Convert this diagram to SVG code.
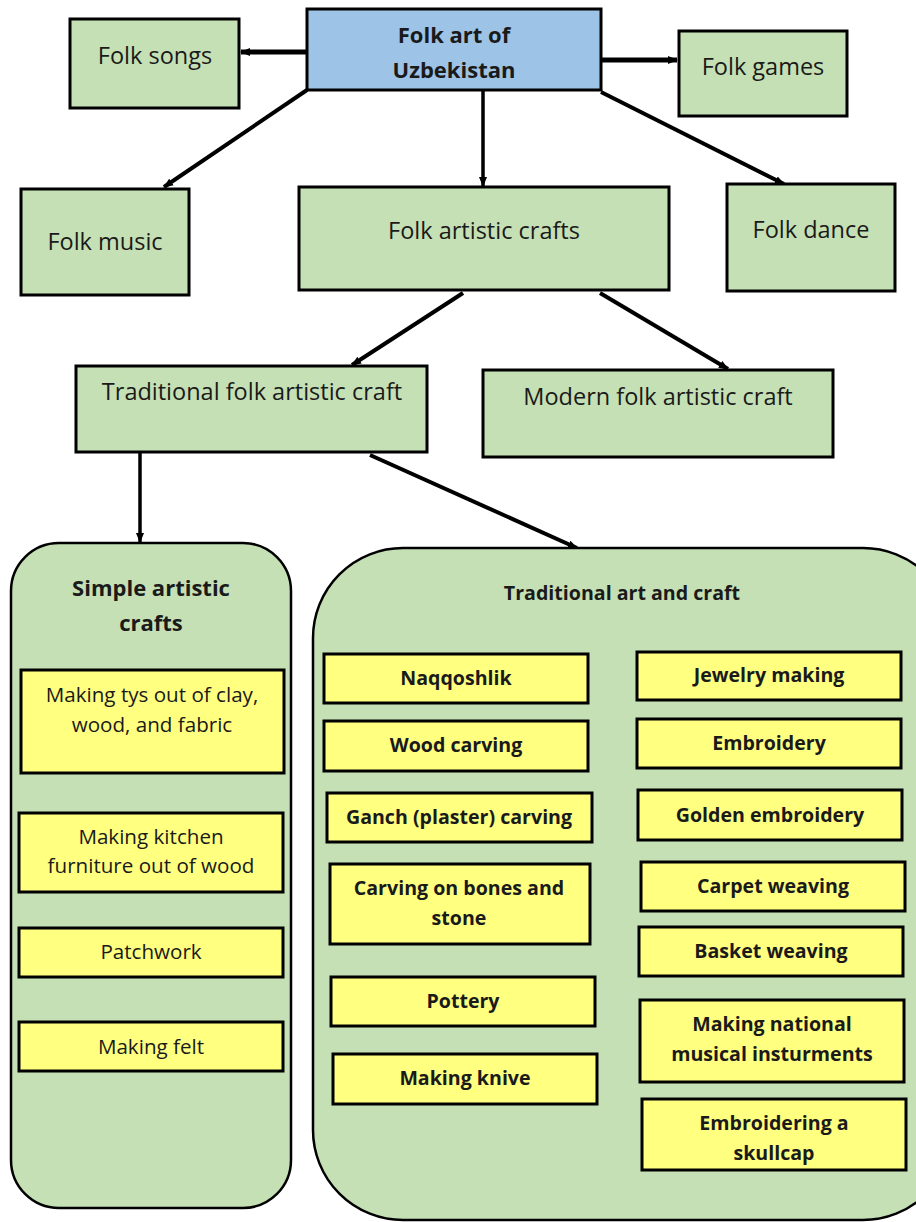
<svg xmlns="http://www.w3.org/2000/svg" width="916" height="1222" viewBox="0 0 916 1222">
<style>
.g{fill:#C5E0B4;stroke:#000;stroke-width:3}
.b{fill:#9DC3E6;stroke:#000;stroke-width:3}
.y{fill:#FFFF80;stroke:#000;stroke-width:3}
.c{fill:#C5E0B4;stroke:#000;stroke-width:2.5}
text{font-family:"Open Sans","Liberation Sans",sans-serif;fill:#1a1a1a;text-anchor:middle}
.t{font-size:23.5px}
.tb{font-size:22px;font-weight:bold}
.s{font-size:20.6px}
.sb{font-size:19.6px;font-weight:bold}
.ln{stroke:#000;fill:none}
</style>
<defs>
<marker id="ah" markerUnits="userSpaceOnUse" markerWidth="10" markerHeight="10" refX="9" refY="5" orient="auto">
<path d="M0,1 L10,5 L0,9 z" fill="#000"/>
</marker>
</defs>
<g id="connectors">
<line class="ln" x1="307" y1="52" x2="241" y2="52" stroke-width="5" marker-end="url(#ah)"/>
<line class="ln" x1="601" y1="60" x2="677" y2="60" stroke-width="5" marker-end="url(#ah)"/>
<line class="ln" x1="307" y1="90" x2="164" y2="187" stroke-width="4" marker-end="url(#ah)"/>
<line class="ln" x1="483" y1="90" x2="483" y2="186" stroke-width="3.5" marker-end="url(#ah)"/>
<line class="ln" x1="601" y1="92" x2="784" y2="184" stroke-width="4" marker-end="url(#ah)"/>
<line class="ln" x1="463" y1="293" x2="352" y2="365" stroke-width="4" marker-end="url(#ah)"/>
<line class="ln" x1="600" y1="293" x2="728" y2="369" stroke-width="4" marker-end="url(#ah)"/>
<line class="ln" x1="140" y1="453" x2="140" y2="542" stroke-width="3.5" marker-end="url(#ah)"/>
<line class="ln" x1="370" y1="455" x2="577" y2="548" stroke-width="4" marker-end="url(#ah)"/>
</g>
<g id="n-main"><rect class="b" x="307" y="9" width="294" height="81"/><text class="tb" x="454" y="43" font-size="21">Folk art of</text><text class="tb" x="454" y="78" font-size="21">Uzbekistan</text></g>
<g id="n-songs"><rect class="g" x="70" y="19" width="169" height="89"/><text class="t" x="155" y="64">Folk songs</text></g>
<g id="n-games"><rect class="g" x="679" y="31" width="168" height="85"/><text class="t" x="763" y="75">Folk games</text></g>
<g id="n-music"><rect class="g" x="21" y="189" width="168" height="106"/><text class="t" x="105" y="250">Folk music</text></g>
<g id="n-crafts"><rect class="g" x="299" y="187" width="370" height="103"/><text class="t" x="484" y="239">Folk artistic crafts</text></g>
<g id="n-dance"><rect class="g" x="727" y="184" width="168" height="107"/><text class="t" x="811" y="238">Folk dance</text></g>
<g id="n-trad"><rect class="g" x="76" y="366" width="351" height="86"/><text class="t" x="252" y="400">Traditional folk artistic craft</text></g>
<g id="n-modern"><rect class="g" x="483" y="370" width="350" height="87"/><text class="t" x="658" y="405">Modern folk artistic craft</text></g>
<g id="n-simple">
<rect class="c" x="11" y="543" width="280" height="665" rx="48" ry="48"/>
<text class="tb" x="151" y="596">Simple artistic</text><text class="tb" x="151" y="631">crafts</text>
</g>
<g id="n-toys"><rect class="y" x="21" y="670" width="263" height="103"/><text class="s" x="152" y="702">Making tys out of clay,</text><text class="s" x="152" y="732">wood, and fabric</text></g>
<g id="n-kitchen"><rect class="y" x="19" y="813" width="264" height="79"/><text class="s" x="151" y="844">Making kitchen</text><text class="s" x="151" y="873">furniture out of wood</text></g>
<g id="n-patch"><rect class="y" x="19" y="928" width="264" height="49"/><text class="s" x="151" y="959">Patchwork</text></g>
<g id="n-felt"><rect class="y" x="19" y="1022" width="264" height="49"/><text class="s" x="151" y="1054">Making felt</text></g>
<g id="n-tradart">
<rect class="c" x="313" y="548" width="640" height="672" rx="90" ry="90"/>
<text class="sb" x="622" y="600" font-size="19.2">Traditional art and craft</text>
</g>
<g id="n-naq"><rect class="y" x="324" y="654" width="264" height="49"/><text class="sb" x="456" y="685">Naqqoshlik</text></g>
<g id="n-wood"><rect class="y" x="324" y="721" width="264" height="50"/><text class="sb" x="456" y="752">Wood carving</text></g>
<g id="n-ganch"><rect class="y" x="327" y="793" width="265" height="49"/><text class="sb" x="459" y="824">Ganch (plaster) carving</text></g>
<g id="n-bones"><rect class="y" x="330" y="864" width="260" height="80"/><text class="sb" x="459" y="895">Carving on bones and</text><text class="sb" x="459" y="925">stone</text></g>
<g id="n-pottery"><rect class="y" x="331" y="977" width="264" height="49"/><text class="sb" x="463" y="1008">Pottery</text></g>
<g id="n-knive"><rect class="y" x="333" y="1054" width="264" height="50"/><text class="sb" x="465" y="1085">Making knive</text></g>
<g id="n-jewel"><rect class="y" x="637" y="652" width="264" height="48"/><text class="sb" x="769" y="682">Jewelry making</text></g>
<g id="n-embr"><rect class="y" x="637" y="719" width="264" height="49"/><text class="sb" x="769" y="750">Embroidery</text></g>
<g id="n-golden"><rect class="y" x="638" y="790" width="264" height="50"/><text class="sb" x="770" y="822">Golden embroidery</text></g>
<g id="n-carpet"><rect class="y" x="641" y="862" width="264" height="49"/><text class="sb" x="773" y="893">Carpet weaving</text></g>
<g id="n-basket"><rect class="y" x="639" y="927" width="264" height="49"/><text class="sb" x="771" y="958">Basket weaving</text></g>
<g id="n-instr"><rect class="y" x="640" y="1000" width="264" height="82"/><text class="sb" x="772" y="1031">Making national</text><text class="sb" x="772" y="1061">musical insturments</text></g>
<g id="n-skull"><rect class="y" x="642" y="1099" width="264" height="71"/><text class="sb" x="774" y="1130">Embroidering a</text><text class="sb" x="774" y="1160">skullcap</text></g>
</svg>
